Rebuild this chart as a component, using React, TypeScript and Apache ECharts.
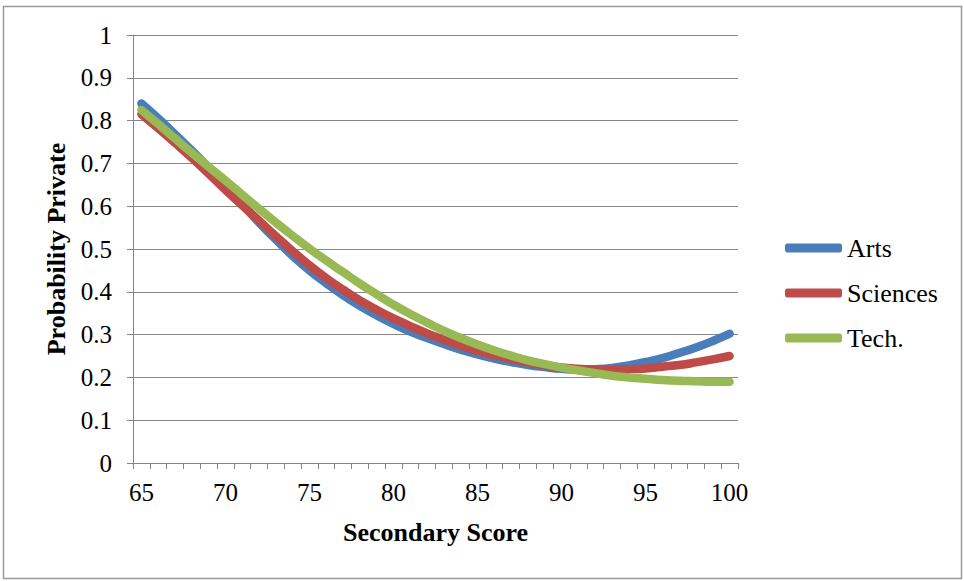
import React, { useEffect, useRef } from "react";
import * as echarts from "echarts";

const scores: string[] = [
  "65", "66", "67", "68", "69", "70", "71", "72", "73", "74", "75", "76",
  "77", "78", "79", "80", "81", "82", "83", "84", "85", "86", "87", "88",
  "89", "90", "91", "92", "93", "94", "95", "96", "97", "98", "99", "100",
];

const arts: number[] = [
  0.840, 0.805, 0.768, 0.730, 0.690, 0.648, 0.605, 0.562, 0.522, 0.484, 0.450, 0.420,
  0.392, 0.367, 0.345, 0.325, 0.307, 0.292, 0.278, 0.265, 0.254, 0.244, 0.236, 0.229,
  0.224, 0.220, 0.218, 0.219, 0.222, 0.228, 0.236, 0.245, 0.257, 0.270, 0.285, 0.302,
];

const sciences: number[] = [
  0.815, 0.782, 0.748, 0.713, 0.676, 0.638, 0.602, 0.566, 0.530, 0.495, 0.462, 0.432,
  0.405, 0.380, 0.358, 0.338, 0.320, 0.303, 0.288, 0.274, 0.262, 0.252, 0.243, 0.235,
  0.228, 0.223, 0.220, 0.218, 0.218, 0.219, 0.221, 0.225, 0.229, 0.235, 0.242, 0.250,
];

const tech: number[] = [
  0.825, 0.792, 0.758, 0.725, 0.692, 0.660, 0.627, 0.594, 0.562, 0.531, 0.501, 0.473,
  0.446, 0.419, 0.394, 0.370, 0.348, 0.328, 0.309, 0.292, 0.277, 0.263, 0.251, 0.240,
  0.231, 0.223, 0.216, 0.210, 0.204, 0.200, 0.197, 0.194, 0.192, 0.191, 0.190, 0.190,
];

const seriesNames: string[] = ["Arts", "Sciences", "Tech."];
const seriesColors: string[] = ["#4A7EBB", "#BE4B48", "#98B954"];

const xTitle = "Secondary Score";
const yTitle = "Probability Private";

const FONT = "serif";
const GRAY = "#868686";

export default function App() {
  const ref = useRef<HTMLDivElement>(null);

  useEffect(() => {
    if (!ref.current) return;
    const chart = echarts.init(ref.current, undefined, { renderer: "svg" });
    const values = [arts, sciences, tech];
    chart.setOption({
      animation: false,
      grid: { left: 133, right: 226, top: 35, bottom: 118 },
      xAxis: {
        type: "category",
        data: scores,
        boundaryGap: true,
        name: xTitle,
        nameLocation: "middle",
        nameGap: 56,
        nameTextStyle: { fontFamily: FONT, fontSize: 26, fontWeight: "bold", color: "#000" },
        axisLine: { lineStyle: { color: GRAY, width: 1 } },
        axisTick: { show: true, interval: 0, length: 6, lineStyle: { color: GRAY } },
        axisLabel: {
          interval: 4,
          margin: 17,
          color: "#000",
          fontFamily: FONT,
          fontSize: 25,
        },
        splitLine: { show: false },
      },
      yAxis: {
        type: "value",
        min: 0,
        max: 1,
        interval: 0.1,
        name: yTitle,
        nameLocation: "middle",
        nameGap: 64,
        nameTextStyle: { fontFamily: FONT, fontSize: 26, fontWeight: "bold", color: "#000" },
        axisLine: { show: true, lineStyle: { color: GRAY, width: 1 } },
        axisTick: { show: true, length: 6, lineStyle: { color: GRAY } },
        axisLabel: {
          margin: 21,
          color: "#000",
          fontFamily: FONT,
          fontSize: 25,
          formatter: (v: number) => String(+v.toFixed(1)),
        },
        splitLine: { show: true, lineStyle: { color: GRAY, width: 1 } },
      },
      legend: {
        orient: "vertical",
        left: 785,
        top: 235,
        padding: 0,
        itemWidth: 57,
        itemHeight: 9,
        itemGap: 19,
        icon: "roundRect",
        textStyle: { color: "#000", fontFamily: FONT, fontSize: 26 },
        data: seriesNames,
      },
      series: seriesNames.map((name, i) => ({
        name,
        type: "line",
        data: values[i],
        smooth: true,
        showSymbol: false,
        symbol: "none",
        color: seriesColors[i],
        lineStyle: { width: 8.5, color: seriesColors[i], cap: "round", join: "round" },
        itemStyle: { color: seriesColors[i] },
        z: 2 + i,
      })),
      graphic: [
        {
          type: "rect",
          shape: { x: 3.5, y: 6.5, width: 958, height: 572 },
          style: { fill: "none", stroke: "#9a9a9a", lineWidth: 1.5 },
          silent: true,
        },
      ],
    });
    return () => chart.dispose();
  }, []);

  return (
    <div
      ref={ref}
      style={{ position: "fixed", left: 0, top: 0, width: 964, height: 581, background: "#fff" }}
    />
  );
}
